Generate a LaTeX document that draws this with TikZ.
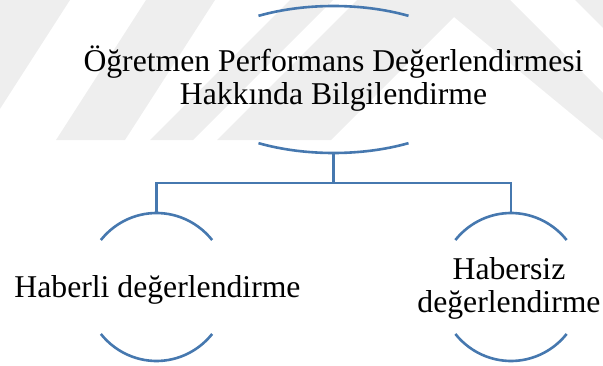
\documentclass[tikz,border=0pt]{standalone}
\usepackage{fontspec}
\setmainfont{Liberation Serif}
\definecolor{linkblue}{HTML}{4678AF}
\definecolor{markgray}{HTML}{EEEEEE}

\begin{document}
\begin{tikzpicture}[x=1pt,y=1pt,
  link/.style={draw=linkblue,line width=2.6pt},
  rim/.style={draw=linkblue,line width=2.6pt},
  caption/.style={font=\fontsize{31.7}{33}\selectfont,align=center,inner sep=0pt},
  shade/.style={fill=markgray,draw=none}]
\useasboundingbox (0,0) rectangle (603,365);

% faint striped background emblem in the upper band
\begin{scope}
  \clip (0,225) rectangle (603,365);
  \path[shade] (-60,365) -- (70,365) -- (-20,225) -- (-150,225) -- cycle;
  \path[shade] (146,365) -- (215,365) -- (125,225) -- (56,225) -- cycle;
  \path[shade] (290,365) -- (333,365) -- (193,225) -- (150,225) -- cycle;
  \path[shade] (357,365) -- (510,365) -- (603,272) -- (603,225)
               -- (454,348) -- (331,225) -- (217,225) -- cycle;
  \path[shade] (575,365) -- (603,365) -- (603,337) -- cycle;
\end{scope}

% centres of the three round frames
\coordinate (topc) at (333.5,285.5);
\coordinate (leftc) at (156.5,78);
\coordinate (rightc) at (511,78);

% frames: only the upper and lower arcs are drawn
\draw[rim] ([shift={(60:150 and 73.5)}]topc) arc[start angle=60,end angle=120,x radius=150,y radius=73.5];
\draw[rim] ([shift={(240:150 and 73.5)}]topc) arc[start angle=240,end angle=300,x radius=150,y radius=73.5];
\foreach \c in {leftc,rightc}{
  \draw[rim] ([shift={(39.4:72 and 74)}]\c) arc[start angle=39.4,end angle=140.6,x radius=72,y radius=74];
  \draw[rim] ([shift={(219.4:72 and 74)}]\c) arc[start angle=219.4,end angle=320.6,x radius=72,y radius=74];
}

% texts
\node[caption] (top) at (333.5,286.5) {Öğretmen Performans Değerlendirmesi\\Hakkında Bilgilendirme};
\node[caption,anchor=base] (left) at (157.5,68) {Haberli değerlendirme};
\node[caption] (right) at (509,76.5) {Habersiz\\değerlendirme};

% connector tree
\coordinate (tb) at (333.5,212);
\coordinate (lt) at (156.5,152);
\coordinate (rt) at (511,152);
\coordinate (j) at (333.5,182);
\draw[link] (tb) -- (j);
\draw[link] (lt) -- (lt |- j) -- (rt |- j) -- (rt);
\end{tikzpicture}
\end{document}
